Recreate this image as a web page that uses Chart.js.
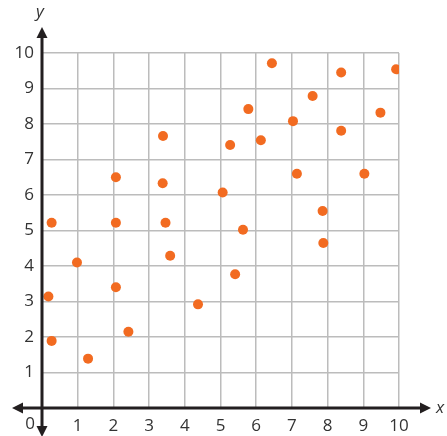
<!DOCTYPE html>
<html>
<head>
<meta charset="utf-8">
<script src="https://cdn.jsdelivr.net/npm/chart.js@4"></script>
<style>
  html, body { margin: 0; padding: 0; background: #fff; }
  #wrap { width: 447px; height: 436px; position: relative; }
</style>
</head>
<body>
<div id="wrap"><canvas id="scatter"></canvas></div>
<script>
// values
const xValues = [0.27, 0.18, 0.27, 0.98, 1.29, 2.07, 2.07, 2.07, 2.42, 3.39, 3.38, 3.46, 3.59, 4.37, 5.06, 5.27,
                 5.41, 5.63, 5.78, 6.13, 6.44, 7.03, 7.14, 7.58, 7.86, 7.88, 8.38, 8.38, 9.03, 9.48, 9.92];
const yValues = [5.22, 3.14, 1.89, 4.10, 1.39, 6.50, 5.22, 3.40, 2.15, 7.66, 6.33, 5.22, 4.29, 2.92, 6.07, 7.41,
                 3.77, 5.02, 8.42, 7.54, 9.71, 8.08, 6.60, 8.79, 5.55, 4.65, 9.45, 7.81, 6.60, 8.32, 9.54];
const axisMin = 0;
const axisMax = 10;
const xLabel = 'x';
const yLabel = 'y';

const points = xValues.map((x, i) => ({ x: x, y: yValues[i] }));
const FONT = '"Open Sans", "Noto Sans", sans-serif';

// black axes with arrowheads, the corner "0" and the axis letters
const axesPlugin = {
    id: 'axesArrows',
    afterDatasetsDraw(chart) {
        const ctx = chart.ctx;
        const xs = chart.scales.x;
        const ys = chart.scales.y;
        const x0 = xs.getPixelForValue(0);
        const y0 = ys.getPixelForValue(0);
        const W = chart.width, H = chart.height;
        ctx.save();
        ctx.strokeStyle = '#231f20';
        ctx.fillStyle = '#231f20';
        ctx.lineWidth = 3;

        ctx.beginPath();
        ctx.moveTo(18, y0); ctx.lineTo(W - 22, y0);
        ctx.moveTo(x0, 36); ctx.lineTo(x0, H - 6);
        ctx.stroke();

        const arrow = (tx, ty, dx, dy) => {
            const len = 11, half = 5.5;
            const bx = tx - dx * len, by = ty - dy * len;
            ctx.beginPath();
            ctx.moveTo(tx, ty);
            ctx.lineTo(bx - dy * half, by + dx * half);
            ctx.lineTo(bx + dy * half, by - dx * half);
            ctx.closePath();
            ctx.fill();
        };
        arrow(12, y0, -1, 0);
        arrow(W - 16, y0, 1, 0);
        arrow(x0, 27, 0, -1);
        arrow(x0, H + 1, 0, 1);

        ctx.fillStyle = '#333';
        ctx.font = '17px ' + FONT;
        ctx.textAlign = 'center';
        ctx.textBaseline = 'middle';
        ctx.fillText('0', x0 - 12, y0 + 16);

        ctx.font = 'italic 17px ' + FONT;
        ctx.fillText(xLabel, W - 7, y0);
        ctx.fillText(yLabel, x0 - 2, 12);
        ctx.restore();
    }
};

new Chart(document.getElementById('scatter'), {
    type: 'scatter',
    data: {
        datasets: [{
            data: points,
            backgroundColor: '#f26b21',
            borderColor: '#f26b21',
            pointRadius: 5,
            pointHoverRadius: 5,
            borderWidth: 0
        }]
    },
    options: {
        responsive: true,
        maintainAspectRatio: false,
        animation: false,
        layout: { padding: { left: 0, top: 53, right: 48, bottom: 0 } },
        plugins: {
            legend: { display: false },
            tooltip: { enabled: false }
        },
        scales: {
            x: {
                type: 'linear',
                min: axisMin,
                max: axisMax,
                afterFit: s => { s.height = 28; },
                border: { display: false },
                grid: { color: '#bcbcbc', lineWidth: 1.5, drawTicks: false },
                ticks: {
                    stepSize: 1,
                    padding: 8,
                    color: '#333',
                    font: { family: FONT, size: 17 },
                    callback: v => (v === 0 ? '' : v)
                }
            },
            y: {
                type: 'linear',
                min: axisMin,
                max: axisMax,
                afterFit: s => { s.width = 42; },
                border: { display: false },
                grid: { color: '#bcbcbc', lineWidth: 1.5, drawTicks: false },
                ticks: {
                    stepSize: 1,
                    padding: 8,
                    color: '#333',
                    font: { family: FONT, size: 17 },
                    callback: v => (v === 0 ? '' : v)
                }
            }
        }
    },
    plugins: [axesPlugin]
});
</script>
</body>
</html>
